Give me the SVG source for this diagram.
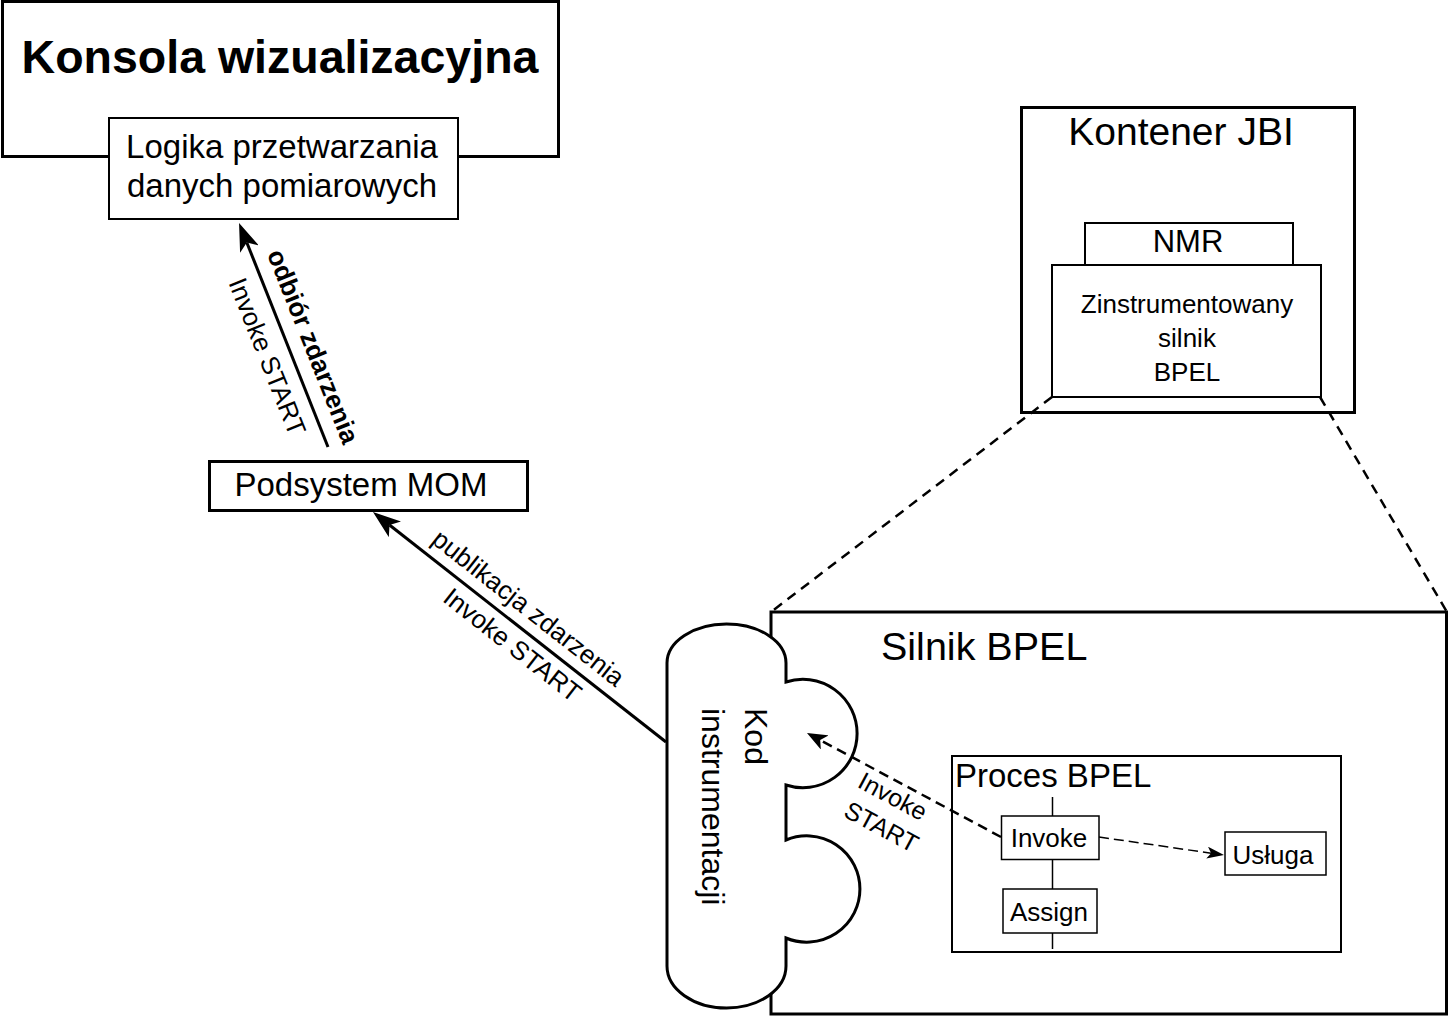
<svg xmlns="http://www.w3.org/2000/svg" width="1449" height="1017" viewBox="0 0 1449 1017">
<style>
  text { font-family: "Liberation Sans", Arial, sans-serif; fill: #000; }
  .box { fill: #fff; stroke: #000; }
  .thick { stroke-width: 3; }
  .mid { stroke-width: 2; }
  .thin { stroke-width: 1.5; }
  .c { text-anchor: middle; }
  .conn { fill: none; stroke: #000; }
</style>
<defs>
  <marker id="bigArrow" markerUnits="userSpaceOnUse" markerWidth="28" markerHeight="20" viewBox="0 0 28 20" refX="7" refY="10" orient="auto">
    <path d="M0,0 L28,10 L0,20 L7,10 Z" fill="#000"/>
  </marker>
  <marker id="midArrow" markerUnits="userSpaceOnUse" markerWidth="20" markerHeight="16" viewBox="0 0 20 16" refX="5" refY="8" orient="auto">
    <path d="M0,0 L20,8 L0,16 L5,8 Z" fill="#000"/>
  </marker>
  <marker id="smallArrow" markerUnits="userSpaceOnUse" markerWidth="17" markerHeight="12" viewBox="0 0 17 12" refX="4" refY="6" orient="auto">
    <path d="M0,0 L17,6 L0,12 L4,6 Z" fill="#000"/>
  </marker>
</defs>

<g id="konsola">
  <rect class="box thick" x="2.5" y="1.5" width="556" height="155"/>
  <text class="c" x="280" y="73" font-size="46.5" font-weight="bold">Konsola wizualizacyjna</text>
</g>
<g id="logika">
  <rect class="box mid" x="109" y="118" width="349" height="101"/>
  <text class="c" x="282" y="158" font-size="33">Logika przetwarzania</text>
  <text class="c" x="282" y="197" font-size="33">danych pomiarowych</text>
</g>
<g id="podsystem-mom">
  <rect class="box thick" x="209.5" y="461.5" width="318" height="49"/>
  <text class="c" x="361" y="496" font-size="33">Podsystem MOM</text>
</g>
<g id="kontener-jbi">
  <rect class="box thick" x="1021.5" y="107.5" width="333" height="305"/>
  <text class="c" x="1181" y="145" font-size="39">Kontener JBI</text>
</g>
<g id="nmr">
  <rect class="box mid" x="1085" y="223" width="208" height="42"/>
  <text class="c" x="1188" y="252" font-size="31">NMR</text>
</g>
<g id="zinstrumentowany">
  <rect class="box mid" x="1052" y="265" width="269" height="132"/>
  <text class="c" x="1187" y="313" font-size="26">Zinstrumentowany</text>
  <text class="c" x="1187" y="347" font-size="26">silnik</text>
  <text class="c" x="1187" y="381" font-size="26">BPEL</text>
</g>
<g id="silnik-bpel">
  <rect class="box thick" x="771" y="612" width="675.5" height="402"/>
  <text x="881" y="660" font-size="39.5">Silnik BPEL</text>
</g>
<g id="kod-instrumentacji">
  <path class="box thick" d="M667,663 A59.5,39 0 0 1 786,663 L786,682 A54.2,54.2 0 1 1 786,785 L786,840 A53.2,53.2 0 1 1 786,938 L786,966 A59.5,42 0 0 1 667,966 Z"/>
  <text transform="translate(745,708) rotate(90)" font-size="32">Kod</text>
  <text transform="translate(702,708) rotate(90)" font-size="32">instrumentacji</text>
</g>
<g id="proces-bpel">
  <rect class="box mid" x="952" y="756" width="389" height="196"/>
  <text x="955" y="787" font-size="33">Proces BPEL</text>
  <line x1="1052.5" y1="797" x2="1052.5" y2="949" stroke="#000" stroke-width="1.5"/>
</g>
<g id="invoke">
  <rect class="box thin" x="1001.5" y="816" width="97.5" height="43.5"/>
  <text class="c" x="1049" y="847" font-size="26">Invoke</text>
</g>
<g id="assign">
  <rect class="box thin" x="1003" y="889" width="94" height="44"/>
  <text class="c" x="1049" y="921" font-size="26">Assign</text>
</g>
<g id="usluga">
  <rect class="box thin" x="1225" y="832" width="101" height="43"/>
  <text class="c" x="1273" y="864" font-size="26">Usługa</text>
</g>

<g id="connectors">
  <line class="conn" x1="1052" y1="397" x2="771" y2="612" stroke-width="2.5" stroke-dasharray="10 7"/>
  <line class="conn" x1="1320" y1="397" x2="1447" y2="612" stroke-width="2.5" stroke-dasharray="10 7"/>

  <line class="conn" x1="328" y1="447" x2="246.8" y2="242.5" stroke-width="3" marker-end="url(#bigArrow)"/>
  <text class="c" transform="translate(305,349.6) rotate(68.3)" font-size="26" font-weight="bold">odbiór zdarzenia</text>
  <text class="c" transform="translate(259,360) rotate(68.3)" font-size="26">Invoke START</text>

  <line class="conn" x1="666" y1="742" x2="389.5" y2="525" stroke-width="3" marker-end="url(#bigArrow)"/>
  <text class="c" transform="translate(523,615) rotate(38.1)" font-size="26">publikacja zdarzenia</text>
  <text class="c" transform="translate(507,652) rotate(38.1)" font-size="26">Invoke START</text>

  <line class="conn" x1="1001" y1="837" x2="820.2" y2="740.1" stroke-width="2.5" stroke-dasharray="10 6" marker-end="url(#midArrow)"/>
  <text class="c" transform="translate(888.8,804) rotate(28.2)" font-size="25">Invoke</text>
  <text class="c" transform="translate(877.4,834.5) rotate(28.2)" font-size="25">START</text>

  <line class="conn" x1="1099" y1="837" x2="1211.1" y2="853.2" stroke-width="1.5" stroke-dasharray="10 5" marker-end="url(#smallArrow)"/>
</g>
</svg>
